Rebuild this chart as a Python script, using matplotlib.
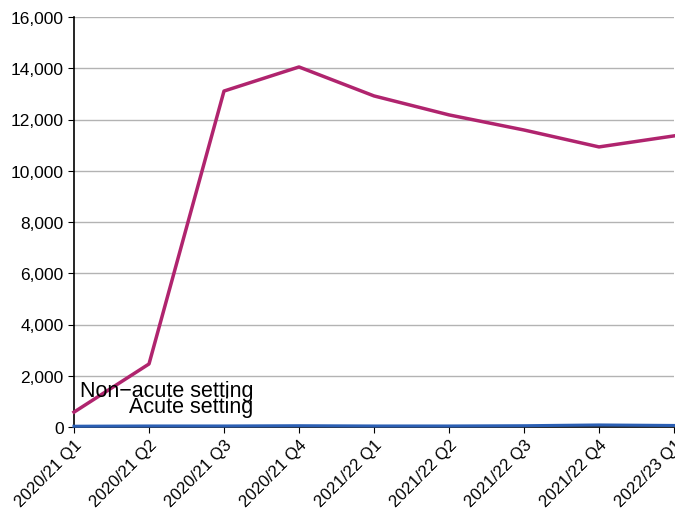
import matplotlib
matplotlib.use("Agg")
import matplotlib.pyplot as plt
from matplotlib.ticker import FuncFormatter

plt.rcParams['font.family'] = ['Liberation Sans', 'DejaVu Sans']

quarters = ["2020/21 Q1", "2020/21 Q2", "2020/21 Q3", "2020/21 Q4", "2021/22 Q1",
            "2021/22 Q2", "2021/22 Q3", "2021/22 Q4", "2022/23 Q1"]
non_acute = [580, 2460, 13110, 14050, 12920, 12180, 11590, 10930, 11360]
acute = [30, 40, 40, 50, 40, 40, 50, 80, 60]

fig = plt.figure(figsize=(6.75, 5.1), dpi=100)
ax = fig.add_axes([74 / 675, 1 - 428 / 510, 600 / 675, 410 / 510])

x = list(range(len(quarters)))
ax.plot(x, acute, color="#2b5fb4", lw=2.2, clip_on=False, zorder=3)
ax.plot(x, non_acute, color="#b0246e", lw=2.5, clip_on=False, zorder=3)

ax.text(2.39, 1420, "Non\u2212acute setting", ha="right", va="center", fontsize=15.5)
ax.text(2.39, 790, "Acute setting", ha="right", va="center", fontsize=15.5)

ax.set_xlim(0, len(quarters) - 1)
ax.set_ylim(0, 16000)
ax.set_yticks(range(0, 16001, 2000))
ax.yaxis.set_major_formatter(FuncFormatter(lambda v, p: "{:,.0f}".format(v)))
ax.set_xticks(x)
ax.set_xticklabels(quarters, rotation=45, ha="right", rotation_mode="anchor")
ax.grid(axis="y", color="#b3b3b3", lw=1)
ax.set_axisbelow(True)
for s in ["top", "right"]:
    ax.spines[s].set_visible(False)
for s in ["left", "bottom"]:
    ax.spines[s].set_color("black")
    ax.spines[s].set_linewidth(1.2)
ax.tick_params(axis="y", labelsize=12.5, length=4, color="black")
ax.tick_params(axis="x", labelsize=12, length=4, color="black", pad=3)

plt.savefig("out.png", dpi=100)
